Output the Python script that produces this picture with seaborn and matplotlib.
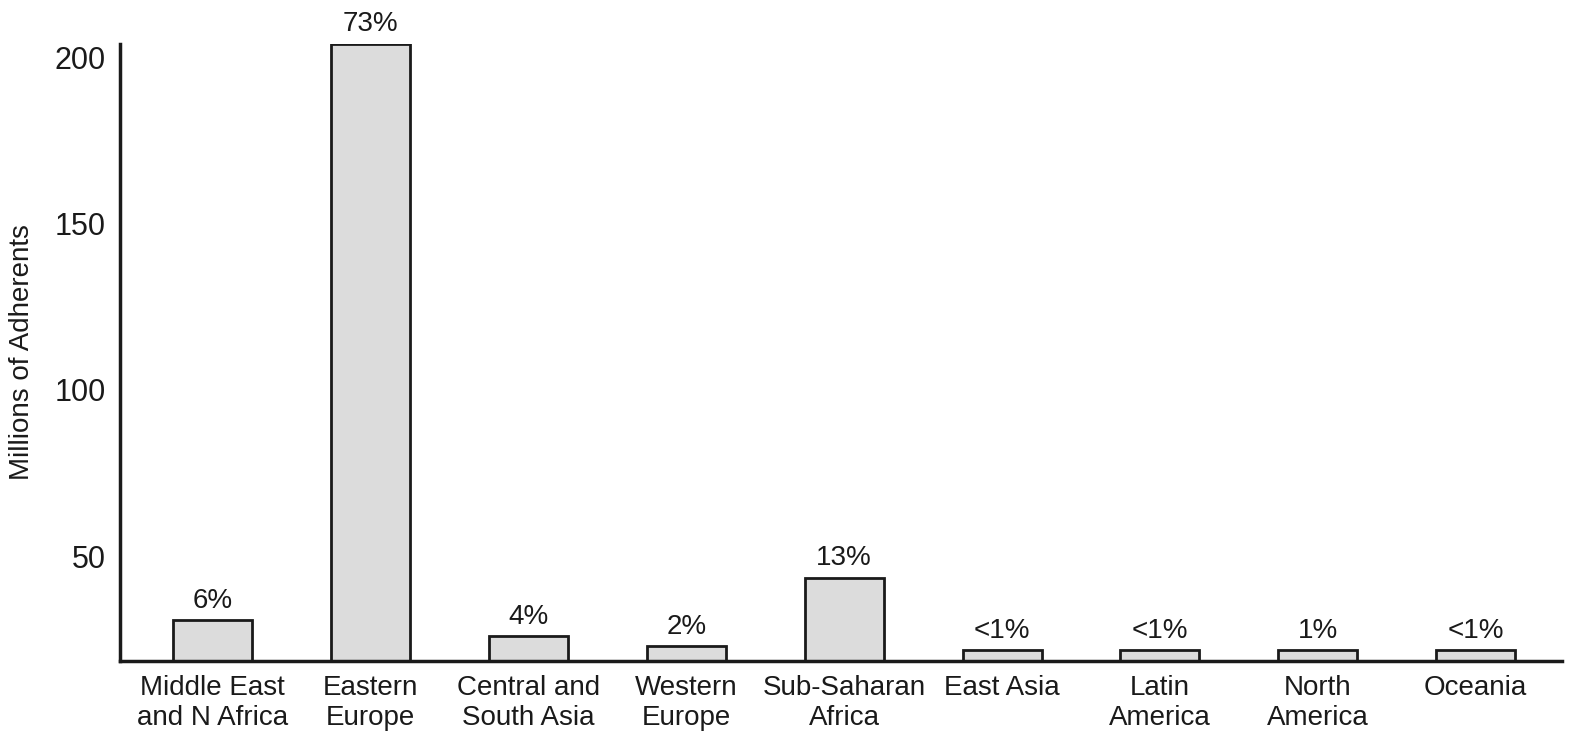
import matplotlib
matplotlib.use("Agg")
import matplotlib.pyplot as plt
import seaborn as sns
import pandas as pd

categories = ["Middle East\nand N Africa", "Eastern\nEurope", "Central and\nSouth Asia", "Western\nEurope",
              "Sub-Saharan\nAfrica", "East Asia", "Latin\nAmerica", "North\nAmerica", "Oceania"]
values = [30.7, 204.0, 25.9, 22.9, 43.4, 21.7, 21.7, 21.7, 21.7]
labels = ["6%", "73%", "4%", "2%", "13%", "<1%", "<1%", "1%", "<1%"]
yticks = [50, 100, 150, 200]

plt.rcParams["font.family"] = "Liberation Sans"
df = pd.DataFrame({"region": categories, "value": values})
fig = plt.figure(figsize=(15.96, 7.54), dpi=100)
ax = fig.add_axes([0.075, 0.123, 0.904, 0.819])
sns.barplot(data=df, x="region", y="value", color="#dcdcdc", edgecolor="#1a1a1a",
            linewidth=2, width=0.5, ax=ax, saturation=1)
for i, (v, l) in enumerate(zip(values, labels)):
    ax.text(i, v + 2, l, ha="center", va="bottom", fontsize=20, color="#1a1a1a")
ax.set_ylim(18.4, 204)
ax.set_xlim(-0.59, 8.55)
ax.set_yticks(yticks)
ax.set_ylabel("Millions of Adherents", fontsize=20, color="#1a1a1a", labelpad=14)
ax.set_xlabel("")
ax.tick_params(axis="both", length=0, labelsize=20, colors="#1a1a1a", pad=10)
ax.tick_params(axis="y", labelsize=22)
for s in ["top", "right"]:
    ax.spines[s].set_visible(False)
for s in ["left", "bottom"]:
    ax.spines[s].set_linewidth(2.5)
    ax.spines[s].set_color("#1a1a1a")
fig.savefig("out.png", dpi=100)
